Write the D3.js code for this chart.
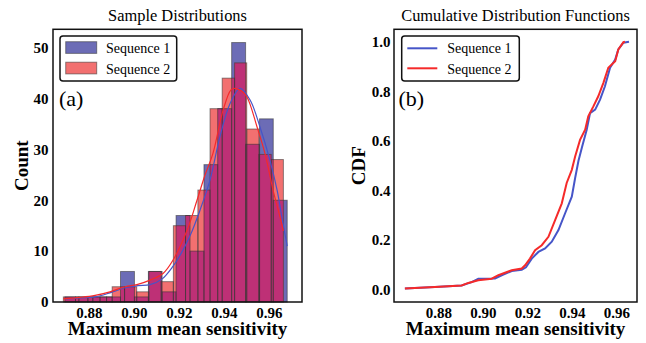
<!DOCTYPE html>
<html>
<head>
<meta charset="utf-8">
<script src="https://cdn.jsdelivr.net/npm/d3@7"></script>
<style>
body { margin: 0; background: #fff; }
text { font-family: "Liberation Serif", "Times New Roman", serif; fill: #000; }
</style>
</head>
<body>
<div id="chart"></div>
<script>
// ---- data ----
var seriesNames = ["Sequence 1", "Sequence 2"];

var seq1Edges = [0.8693, 0.8755, 0.8817, 0.8878, 0.8940, 0.9002, 0.9064, 0.9125, 0.9187,
                 0.9249, 0.9311, 0.9372, 0.9434, 0.9496, 0.9558, 0.9619, 0.9681];
var seq1Counts = [1, 1, 1, 1, 6, 1, 6, 2, 17, 10, 27, 38, 51, 31, 36, 20];

var seq2Edges = [0.8686, 0.8740, 0.8795, 0.8849, 0.8903, 0.8958, 0.9012, 0.9066, 0.9121, 0.9175,
                 0.9229, 0.9284, 0.9338, 0.9392, 0.9447, 0.9501, 0.9555, 0.9610, 0.9664];
var seq2Counts = [1, 1, 1, 1, 3, 3, 2, 6, 4, 15, 17, 22, 38, 44, 47, 34, 29, 28];

var kde1X = [0.8693, 0.8760, 0.8827, 0.8893, 0.8960, 0.9018, 0.9071, 0.9124, 0.9173, 0.9209, 0.9249,
             0.9293, 0.9338, 0.9382, 0.9427, 0.9471, 0.9516, 0.9560, 0.9604, 0.9636, 0.9662, 0.9681];
var kde1Y = [0.6, 0.8, 1.0, 1.8, 2.8, 3.2, 3.4, 4.5, 7.0, 9.5, 13,
             18, 24, 32.5, 39, 42, 39.7, 34.4, 27.9, 22, 15.5, 11];

var kde2X = [0.8686, 0.8760, 0.8827, 0.8893, 0.8960, 0.9013, 0.9071, 0.9129, 0.9173, 0.9236, 0.9280, 0.9316,
             0.9351, 0.9396, 0.9431, 0.9449, 0.9476, 0.9502, 0.9547, 0.9582, 0.9618, 0.9649, 0.9664];
var kde2Y = [0.6, 0.9, 1.3, 2.0, 3.0, 3.4, 4.3, 5.6, 8.2, 14.1, 20, 25,
             29.2, 37.7, 41.7, 42, 41.5, 40.3, 34.4, 29.2, 22, 16.7, 14];

var cdf1X = [0.8650, 0.8785, 0.8905, 0.8950, 0.8980, 0.9055, 0.9085, 0.9130, 0.9175, 0.9194, 0.9220,
             0.9250, 0.9280, 0.9310, 0.9340, 0.9370, 0.9400, 0.9415, 0.9430, 0.9446, 0.9467, 0.9482,
             0.9505, 0.9527, 0.9549, 0.9572, 0.9595, 0.9609, 0.9632, 0.9657];
var cdf1Y = [0.004, 0.011, 0.017, 0.030, 0.044, 0.045, 0.058, 0.075, 0.080, 0.090, 0.125,
             0.152, 0.166, 0.193, 0.240, 0.308, 0.375, 0.45, 0.52, 0.575, 0.645, 0.712,
             0.726, 0.766, 0.820, 0.895, 0.928, 0.969, 0.996, 1.0];

var cdf2X = [0.8650, 0.8785, 0.8905, 0.8935, 0.8980, 0.9040, 0.9070, 0.9130, 0.9175, 0.9190, 0.9212,
             0.9235, 0.9265, 0.9295, 0.9325, 0.9355, 0.9377, 0.9400, 0.9415, 0.9437, 0.9460, 0.9474,
             0.9497, 0.9519, 0.9542, 0.9564, 0.9595, 0.9609, 0.9632, 0.9639];
var cdf2Y = [0.004, 0.011, 0.017, 0.027, 0.038, 0.044, 0.058, 0.078, 0.085, 0.098, 0.125,
             0.159, 0.179, 0.213, 0.280, 0.348, 0.430, 0.483, 0.537, 0.604, 0.645, 0.699,
             0.739, 0.780, 0.834, 0.895, 0.921, 0.969, 0.998, 1.0];

var xTicks = [0.88, 0.90, 0.92, 0.94, 0.96];
var countTicks = [0, 10, 20, 30, 40, 50];
var cdfTicks = [0, 0.2, 0.4, 0.6, 0.8, 1.0];

// ---- styles ----
var blueFill = "#6c6cb6", redFill = "#f27070", bothFill = "#be3076";
var blueLine = "#4655c8", redLine = "#f52a2a";
var serif = "'Liberation Serif', 'Times New Roman', serif";

var svg = d3.select("#chart").append("svg")
            .attr("width", 646)
            .attr("height", 343);

svg.append("rect").attr("width", 646).attr("height", 343).attr("fill", "#fff");

var panelA = { x0: 53, x1: 302, y0: 29.3, y1: 302 };
var panelB = { x0: 394, x1: 637, y0: 29.3, y1: 302 };

var xHist = d3.scaleLinear().domain([0.864, 0.97467]).range([panelA.x0, panelA.x1]);
var yHist = d3.scaleLinear().domain([0, 53.6]).range([panelA.y1, panelA.y0]);

var xCdf = d3.scaleLinear().domain([0.8601, 0.9693]).range([panelB.x0, panelB.x1]);
var yCdf = d3.scaleLinear().domain([-0.05, 1.05]).range([panelB.y1, panelB.y0]);

var makeBins = function( edges, counts ){
  return counts.map(function(n, i){ return { x0: edges[i], x1: edges[i + 1], n: n }; });
};

var bins1 = makeBins(seq1Edges, seq1Counts);
var bins2 = makeBins(seq2Edges, seq2Counts);

// overlapping parts of the two histograms
var overlaps = [];
bins1.forEach(function(a){
  bins2.forEach(function(b){
    var lo = Math.max(a.x0, b.x0), hi = Math.min(a.x1, b.x1);
    if (hi > lo) overlaps.push({ x0: lo, x1: hi, n: Math.min(a.n, b.n) });
  });
});

var drawBars = function( g, bins, fill, stroke ){
  g.selectAll(null)
   .data(bins)
   .enter().append("rect")
   .attr("x", function(d) { return xHist(d.x0); })
   .attr("y", function(d) { return yHist(d.n); })
   .attr("width", function(d) { return xHist(d.x1) - xHist(d.x0); })
   .attr("height", function(d) { return yHist(0) - yHist(d.n); })
   .attr("fill", fill)
   .attr("stroke", stroke)
   .attr("stroke-opacity", 0.55)
   .attr("stroke-width", 1);
};

var gA = svg.append("g");
drawBars(gA, bins1, blueFill, "none");
drawBars(gA, bins2, redFill, "none");
drawBars(gA, overlaps, bothFill, "none");
drawBars(gA, bins1, "none", "#333");
drawBars(gA, bins2, "none", "#333");

var kdeLine = d3.line()
                .x(function(d) { return xHist(d[0]); })
                .y(function(d) { return yHist(d[1]); })
                .curve(d3.curveCatmullRom);

gA.append("path")
  .attr("d", kdeLine(d3.zip(kde1X, kde1Y)))
  .attr("fill", "none").attr("stroke", blueLine).attr("stroke-width", 1.2);
gA.append("path")
  .attr("d", kdeLine(d3.zip(kde2X, kde2Y)))
  .attr("fill", "none").attr("stroke", redLine).attr("stroke-width", 1.2);

// CDF panel
var gB = svg.append("g");
var cdfLine = d3.line()
                .x(function(d) { return xCdf(d[0]); })
                .y(function(d) { return yCdf(d[1]); });

gB.append("path")
  .attr("d", cdfLine(d3.zip(cdf1X, cdf1Y)))
  .attr("fill", "none").attr("stroke", blueLine).attr("stroke-width", 2);
gB.append("path")
  .attr("d", cdfLine(d3.zip(cdf2X, cdf2Y)))
  .attr("fill", "none").attr("stroke", redLine).attr("stroke-width", 2);

// axes
var styleAxis = function( g ){
  g.select(".domain").remove();
  g.selectAll("text")
   .attr("font-family", serif)
   .style("font-size", "15px")
   .style("font-weight", "bold");
};

svg.append("g")
   .attr("transform", "translate(0," + panelA.y1 + ")")
   .call(d3.axisBottom(xHist).tickValues(xTicks).tickFormat(d3.format(".2f")).tickSize(0).tickPadding(5.5))
   .call(styleAxis);
svg.append("g")
   .attr("transform", "translate(" + panelA.x0 + ",0)")
   .call(d3.axisLeft(yHist).tickValues(countTicks).tickFormat(d3.format("d")).tickSize(0).tickPadding(4.5))
   .call(styleAxis);
svg.append("g")
   .attr("transform", "translate(0," + panelB.y1 + ")")
   .call(d3.axisBottom(xCdf).tickValues(xTicks).tickFormat(d3.format(".2f")).tickSize(0).tickPadding(5.5))
   .call(styleAxis);
svg.append("g")
   .attr("transform", "translate(" + panelB.x0 + ",0)")
   .call(d3.axisLeft(yCdf).tickValues(cdfTicks).tickFormat(d3.format(".1f")).tickSize(0).tickPadding(3.5))
   .call(styleAxis);

// frames
[panelA, panelB].forEach(function(p){
  svg.append("rect")
     .attr("x", p.x0).attr("y", p.y0)
     .attr("width", p.x1 - p.x0).attr("height", p.y1 - p.y0)
     .attr("fill", "none").attr("stroke", "#111").attr("stroke-width", 1.5);
});

// titles and labels
var addText = function( x, y, str, size, weight, rotate ){
  var t = svg.append("text")
             .attr("text-anchor", "middle")
             .style("font-size", size + "px")
             .style("font-weight", weight)
             .text(str);
  if (rotate) t.attr("transform", "translate(" + x + "," + y + ") rotate(-90)");
  else t.attr("x", x).attr("y", y);
  return t;
};

addText((panelA.x0 + panelA.x1) / 2, 20.5, "Sample Distributions", 16.4, "normal");
addText((panelB.x0 + panelB.x1) / 2, 20.5, "Cumulative Distribution Functions", 16.4, "normal");
addText((panelA.x0 + panelA.x1) / 2, 334.5, "Maximum mean sensitivity", 19, "bold");
addText((panelB.x0 + panelB.x1) / 2, 334.5, "Maximum mean sensitivity", 19, "bold");
addText(28, (panelA.y0 + panelA.y1) / 2, "Count", 19, "bold", true);
addText(365, (panelB.y0 + panelB.y1) / 2, "CDF", 19, "bold", true);

svg.append("text").attr("x", panelA.x0 + 6).attr("y", 106).style("font-size", "22px").text("(a)");
svg.append("text").attr("x", panelB.x0 + 4.5).attr("y", 106).style("font-size", "22px").text("(b)");

// legends
var legendA = svg.append("g").attr("transform", "translate(60,36)");
legendA.append("rect").attr("width", 116.7).attr("height", 45).attr("rx", 3)
       .attr("fill", "#fff").attr("stroke", "#111").attr("stroke-width", 1.5);
legendA.selectAll("rect.patch")
       .data([blueFill, redFill])
       .enter().append("rect")
       .attr("class", "patch")
       .attr("x", 5.7)
       .attr("y", function(d, i) { return 5.7 + i * 20.5; })
       .attr("width", 31).attr("height", 11.7)
       .attr("fill", function(d) { return d; })
       .attr("stroke", "#333").attr("stroke-opacity", 0.55);
legendA.selectAll("text")
       .data(seriesNames)
       .enter().append("text")
       .attr("x", 46)
       .attr("y", function(d, i) { return 17.3 + i * 20.3; })
       .style("font-size", "14px")
       .text(function(d) { return d; });

var legendB = svg.append("g").attr("transform", "translate(401.7,36)");
legendB.append("rect").attr("width", 117.6).attr("height", 45).attr("rx", 3)
       .attr("fill", "#fff").attr("stroke", "#111").attr("stroke-width", 1.5);
legendB.selectAll("line")
       .data([blueLine, redLine])
       .enter().append("line")
       .attr("x1", 5.6).attr("x2", 35.6)
       .attr("y1", function(d, i) { return 12.3 + i * 20; })
       .attr("y2", function(d, i) { return 12.3 + i * 20; })
       .attr("stroke", function(d) { return d; })
       .attr("stroke-width", 2);
legendB.selectAll("text")
       .data(seriesNames)
       .enter().append("text")
       .attr("x", 45.6)
       .attr("y", function(d, i) { return 17.3 + i * 20.3; })
       .style("font-size", "14px")
       .text(function(d) { return d; });
</script>
</body>
</html>
